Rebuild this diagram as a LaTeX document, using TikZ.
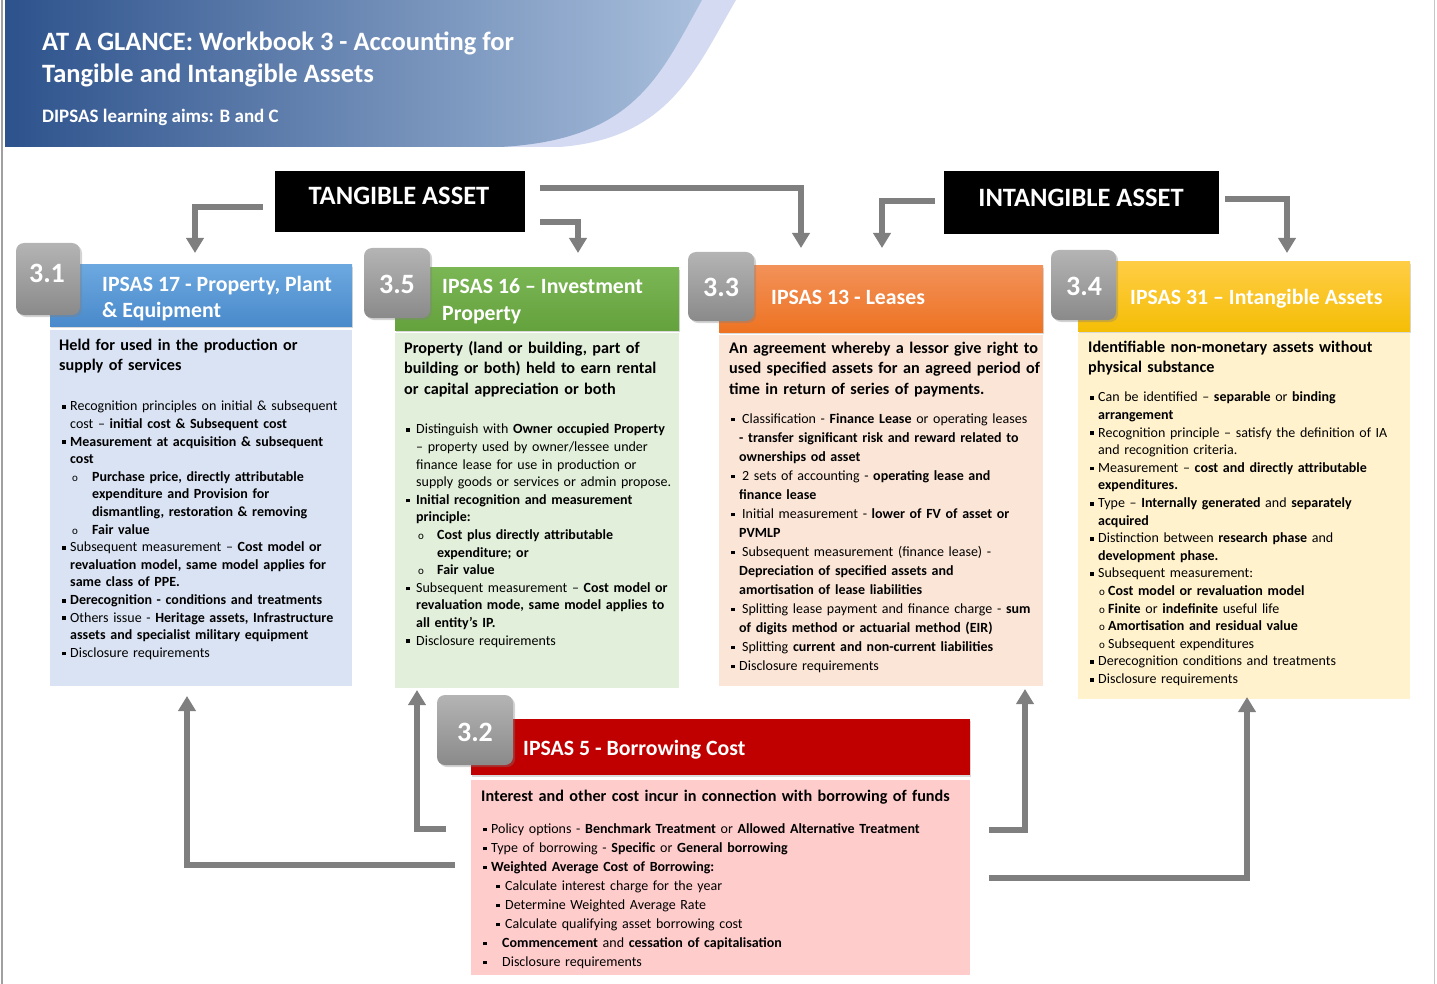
\documentclass[tikz,border=0pt]{standalone}
\usepackage{fontspec}
\setmainfont{Carlito}
\usetikzlibrary{shadows,arrows.meta}
\definecolor{arrgray}{HTML}{7F7F7F}
\definecolor{hdA}{HTML}{2D528C}
\definecolor{hdM}{HTML}{5A75A3}
\definecolor{hdB}{HTML}{A9BFDC}
\definecolor{lav}{HTML}{D3DAF1}
\definecolor{tabtop}{HTML}{B4B4B4}
\definecolor{tabbot}{HTML}{8A8A8A}
\definecolor{bluetop}{HTML}{6CA8E0}
\definecolor{bluebot}{HTML}{4A8ACB}
\definecolor{bluebody}{HTML}{DAE3F3}
\definecolor{greentop}{HTML}{7BB655}
\definecolor{greenbot}{HTML}{64A23D}
\definecolor{greenbody}{HTML}{E2EFDA}
\definecolor{orangetop}{HTML}{F29159}
\definecolor{orangebot}{HTML}{EE7322}
\definecolor{orangebody}{HTML}{FBE5D6}
\definecolor{yellowtop}{HTML}{FFCD45}
\definecolor{yellowbot}{HTML}{F5BE06}
\definecolor{yellowbody}{HTML}{FFF2CC}
\definecolor{redbar}{HTML}{C00000}
\definecolor{redbody}{HTML}{FFCCCC}
\definecolor{bordergray}{HTML}{A0A0A0}
\newcommand{\sqb}{\raisebox{1.9pt}{\rule{3.8pt}{3.8pt}}}
\newcommand{\ob}{{\fontsize{11}{12}\selectfont o}}
\newcommand{\itm}[4]{\par\hangindent=#2pt\hangafter=1\noindent\makebox[#2pt][l]{\rule{0pt}{11pt}\hspace*{#1pt}#3}\ignorespaces#4}
\tikzset{
  arr/.style={draw=arrgray, line width=5.5pt, -{Triangle[width=17pt,length=15pt]}},
  bodybox/.style={anchor=north west, inner sep=0, outer sep=0, draw=none},
  hbar/.style={anchor=north west, inner sep=0, outer sep=0, draw=none,
    drop shadow={shadow xshift=1pt, shadow yshift=-2pt, opacity=0.3}},
  tabbox/.style={anchor=north west, inner sep=0, outer sep=0, draw=none, rounded corners=8pt,
    top color=tabtop, bottom color=tabbot,
    drop shadow={shadow xshift=2pt, shadow yshift=-2pt, opacity=0.35}},
  tabnum/.style={anchor=base, inner sep=0, text=white, font=\fontsize{28}{32}\selectfont\bfseries},
  htext/.style={anchor=base west, inner sep=0, text=white, font=\fontsize{21.8}{26}\selectfont\bfseries},
  blackbox/.style={anchor=north west, inner sep=0, outer sep=0, fill=black, draw=none},
  btext/.style={anchor=base, inner sep=0, text=white, font=\fontsize{26.5}{30}\selectfont\bfseries},
  hd/.style={anchor=north west, inner sep=0, align=left, text width=#1,
    font=\fontsize{16.2}{20.5}\selectfont\bfseries\setlength\parskip{0pt}},
  lst/.style={anchor=north west, inner sep=0, align=left, text width=#1,
    font=\fontsize{14}{17.6}\selectfont\setlength\parskip{0pt}},
}
\begin{document}
\begin{tikzpicture}[x=1pt,y=-1pt]
\useasboundingbox (0,0) rectangle (1437,984);
% page header band
\fill[lav] (600,0) -- (736,0) .. controls (695,70) and (670,138) .. (560,147) -- (480,147) -- cycle;
\shade[left color=hdA, middle color=hdM, right color=hdB]
  (5,0) -- (702,0) .. controls (660,75) and (635,140) .. (500,147) -- (5,147) -- cycle;
\draw[bordergray, line width=1.5pt] (2,0) -- (2,984);
\draw[bordergray!60, line width=1pt] (1434,0) -- (1434,984);
\node[htext, font=\fontsize{26.5}{32}\selectfont\bfseries] (title1) at (42,51) {AT A GLANCE: Workbook 3 - Accounting for};
\node[htext, font=\fontsize{26.5}{32}\selectfont\bfseries] (title2) at (42,83) {Tangible and Intangible Assets};
\node[htext, font=\fontsize{19}{22}\selectfont\bfseries] (aims) at (42,123) {DIPSAS learning aims: B and C};

% black category boxes
\node[blackbox, minimum width=250pt, minimum height=61pt] (tang) at (275,171) {};
\node[btext] (tangt) at (399,205) {TANGIBLE ASSET};
\node[blackbox, minimum width=275pt, minimum height=63pt] (intang) at (944,171) {};
\node[btext] (intangt) at (1081,207) {INTANGIBLE ASSET};

% body boxes
\node[bodybox, fill=bluebody, minimum width=302pt, minimum height=356pt] (b31) at (50,330) {};
\node[bodybox, fill=greenbody, minimum width=284pt, minimum height=355pt] (b35) at (395,333) {};
\node[bodybox, fill=orangebody, minimum width=324pt, minimum height=351pt] (b33) at (719,335) {};
\node[bodybox, fill=yellowbody, minimum width=332pt, minimum height=366pt] (b34) at (1078,333) {};
\node[bodybox, fill=redbody, minimum width=499pt, minimum height=195pt] (b32) at (471,780) {};

% header bars
\node[hbar, top color=bluetop, bottom color=bluebot, minimum width=302pt, minimum height=61pt] (h31) at (50,265) {};
\node[hbar, top color=greentop, bottom color=greenbot, minimum width=284pt, minimum height=62pt] (h35) at (395,268) {};
\node[hbar, top color=orangetop, bottom color=orangebot, minimum width=324pt, minimum height=66pt] (h33) at (719,266) {};
\node[hbar, top color=yellowtop, bottom color=yellowbot, minimum width=332pt, minimum height=69pt] (h34) at (1078,262) {};
\node[hbar, fill=redbar, minimum width=499pt, minimum height=56pt] (h32) at (471,719) {};

% number tabs
\node[tabbox, minimum width=64pt, minimum height=72pt] (t31) at (16,243) {};
\node[tabbox, minimum width=66pt, minimum height=70pt] (t35) at (364,248) {};
\node[tabbox, minimum width=66pt, minimum height=69pt] (t33) at (688,252) {};
\node[tabbox, minimum width=65pt, minimum height=70pt] (t34) at (1051,250) {};
\node[tabbox, minimum width=76pt, minimum height=70pt] (t32) at (437,695) {};
\node[tabnum] (n31) at (47,283) {3.1};
\node[tabnum] (n35) at (397,294) {3.5};
\node[tabnum] (n33) at (721,297) {3.3};
\node[tabnum] (n34) at (1084,295) {3.4};
\node[tabnum] (n32) at (475,741) {3.2};

% header bar titles
\node[htext] (ht31a) at (102,291) {IPSAS 17 - Property, Plant};
\node[htext] (ht31b) at (102,317) {\& Equipment};
\node[htext] (ht35a) at (442,294) {IPSAS 16 – Investment};
\node[htext] (ht35b) at (442,320) {Property};
\node[htext] (ht33) at (771,305) {IPSAS 13 - Leases};
\node[htext] (ht34) at (1130,304) {IPSAS 31 – Intangible Assets};
\node[htext] (ht32) at (523,755) {IPSAS 5 - Borrowing Cost};

% column 3.1
\node[hd=290pt] (d31) at (59,338) {\rule{0pt}{12pt}Held for used in the production or\newline supply of services};
\node[lst=290pt] (l31) at (59,393) {%
\itm{3}{11}{\sqb}{Recognition principles on initial \& subsequent\newline cost – \textbf{initial cost \& Subsequent cost}}
\itm{3}{11}{\sqb}{\textbf{Measurement at acquisition \& subsequent\newline cost}}
\itm{13}{33}{\ob}{\textbf{Purchase price, directly attributable\newline expenditure and Provision for\newline dismantling, restoration \& removing}}
\itm{13}{33}{\ob}{\textbf{Fair value}}
\itm{3}{11}{\sqb}{Subsequent measurement – \textbf{Cost model or\newline revaluation model, same model applies for\newline same class of PPE.}}
\itm{3}{11}{\sqb}{\textbf{Derecognition - conditions and treatments}}
\itm{3}{11}{\sqb}{Others issue - \textbf{Heritage assets, Infrastructure\newline assets and specialist military equipment}}
\itm{3}{11}{\sqb}{Disclosure requirements}};

% column 3.5
\node[hd=280pt] (d35) at (404,341) {\rule{0pt}{12pt}Property (land or building, part of\newline building or both) held to earn rental\newline or capital appreciation or both};
\node[lst=280pt] (l35) at (404,416) {%
\itm{2}{12}{\sqb}{Distinguish with \textbf{Owner occupied Property}\newline – property used by owner/lessee under\newline finance lease for use in production or\newline supply goods or services or admin propose.}
\itm{2}{12}{\sqb}{\textbf{Initial recognition and measurement\newline principle:}}
\itm{14}{33}{\ob}{\textbf{Cost plus directly attributable\newline expenditure; or}}
\itm{14}{33}{\ob}{\textbf{Fair value}}
\itm{2}{12}{\sqb}{Subsequent measurement – \textbf{Cost model or\newline revaluation mode, same model applies to\newline all entity’s IP.}}
\itm{2}{12}{\sqb}{Disclosure requirements}};

% column 3.3
\node[hd=315pt] (d33) at (729,341) {\rule{0pt}{12pt}An agreement whereby a lessor give right to\newline used specified assets for an agreed period of\newline time in return of series of payments.};
\node[lst=315pt, font=\fontsize{14}{19}\selectfont\setlength\parskip{0pt}] (l33) at (729,404) {%
\itm{2}{10}{\sqb}{\hspace*{3pt}Classification - \textbf{Finance Lease} or operating leases\newline \textbf{- transfer significant risk and reward related to\newline ownerships od asset}}
\itm{2}{10}{\sqb}{\hspace*{3pt}2 sets of accounting - \textbf{operating lease and\newline finance lease}}
\itm{2}{10}{\sqb}{\hspace*{3pt}Initial measurement - \textbf{lower of FV of asset or\newline PVMLP}}
\itm{2}{10}{\sqb}{\hspace*{3pt}Subsequent measurement (finance lease) -\newline \textbf{Depreciation of specified assets and\newline amortisation of lease liabilities}}
\itm{2}{10}{\sqb}{\hspace*{3pt}Splitting lease payment and finance charge - \textbf{sum\newline of digits method or actuarial method (EIR)}}
\itm{2}{10}{\sqb}{\hspace*{3pt}Splitting \textbf{current and non-current liabilities}}
\itm{2}{10}{\sqb}{Disclosure requirements}};

% column 3.4
\node[hd=320pt] (d34) at (1088,340) {\rule{0pt}{12pt}Identifiable non-monetary assets without\newline physical substance};
\node[lst=320pt] (l34) at (1088,384) {%
\itm{2}{10}{\sqb}{Can be identified – \textbf{separable} or \textbf{binding\newline arrangement}}
\itm{2}{10}{\sqb}{Recognition principle – satisfy the definition of IA\newline and recognition criteria.}
\itm{2}{10}{\sqb}{Measurement – \textbf{cost and directly attributable\newline expenditures.}}
\itm{2}{10}{\sqb}{Type – \textbf{Internally generated} and \textbf{separately\newline acquired}}
\itm{2}{10}{\sqb}{Distinction between \textbf{research phase} and\newline \textbf{development phase.}}
\itm{2}{10}{\sqb}{Subsequent measurement:}
\itm{11}{20}{\ob}{\textbf{Cost model or revaluation model}}
\itm{11}{20}{\ob}{\textbf{Finite} or \textbf{indefinite} useful life}
\itm{11}{20}{\ob}{\textbf{Amortisation and residual value}}
\itm{11}{20}{\ob}{Subsequent expenditures}
\itm{2}{10}{\sqb}{Derecognition conditions and treatments}
\itm{2}{10}{\sqb}{Disclosure requirements}};

% column 3.2
\node[hd=480pt] (d32) at (481,789) {\rule{0pt}{12pt}Interest and other cost incur in connection with borrowing of funds};
\node[lst=480pt, font=\fontsize{14}{19}\selectfont\setlength\parskip{0pt}] (l32) at (481,814) {%
\itm{2}{10}{\sqb}{Policy options - \textbf{Benchmark Treatment} or \textbf{Allowed Alternative Treatment}}
\itm{2}{10}{\sqb}{Type of borrowing - \textbf{Specific} or \textbf{General borrowing}}
\itm{2}{10}{\sqb}{\textbf{Weighted Average Cost of Borrowing:}}
\itm{15}{24}{\sqb}{Calculate interest charge for the year}
\itm{15}{24}{\sqb}{Determine Weighted Average Rate}
\itm{15}{24}{\sqb}{Calculate qualifying asset borrowing cost}
\itm{2}{21}{\sqb}{\textbf{Commencement} and \textbf{cessation of capitalisation}}
\itm{2}{21}{\sqb}{Disclosure requirements}};

% connectors
\draw[arr] ([xshift=-12pt,yshift=-5.5pt]tang.west) -| ([xshift=-6pt,yshift=12pt]h31.north);
\draw[arr] ([xshift=15pt,yshift=-20.5pt]tang.east) -| ([xshift=41pt,yshift=15pt]h35.north);
\draw[arr] ([xshift=15pt,yshift=13.5pt]tang.east) -| ([xshift=-80pt,yshift=18pt]h33.north);
\draw[arr] ([xshift=-9pt,yshift=1.5pt]intang.west) -| ([xshift=1pt,yshift=18pt]h33.north);
\draw[arr] ([xshift=6pt,yshift=3.5pt]intang.east) -| ([xshift=43pt,yshift=9pt]h34.north);
\draw[arr] ([xshift=-16pt,yshift=12.5pt]b32.west) -| ([xshift=-14pt,yshift=-10pt]b31.south);
\draw[arr] ([xshift=-25pt,yshift=48.5pt]b32.west) -| ([xshift=22pt,yshift=-2pt]b35.south west);
\draw[arr] ([xshift=19pt,yshift=47.5pt]b32.east) -| ([xshift=-18pt,yshift=-3pt]b33.south east);
\draw[arr] ([xshift=19pt,yshift=-0.5pt]b32.east) -| ([xshift=3pt,yshift=2pt]b34.south);
\end{tikzpicture}
\end{document}
